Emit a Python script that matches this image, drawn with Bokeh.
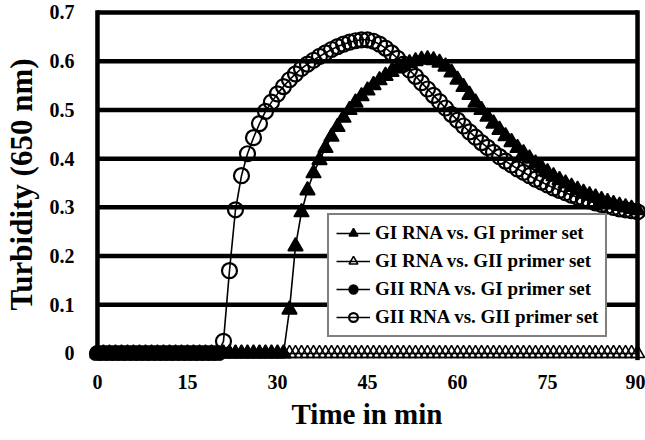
from bokeh.plotting import figure
from bokeh.models import Range1d, FixedTicker, Legend, LegendItem
from bokeh.embed import file_html
from bokeh.resources import INLINE

# ---------------- data ----------------
time_min = list(range(0, 91))

gi_rna_gi_primer = [
    0, 0, 0, 0, 0, 0, 0, 0, 0, 0,
    0, 0, 0, 0, 0, 0, 0, 0, 0, 0,
    0, 0, 0, 0, 0, 0, 0, 0, 0, 0,
    0, 0,
    0.09, 0.22, 0.29, 0.335, 0.37, 0.397, 0.422, 0.445, 0.465, 0.484,
    0.50, 0.515, 0.528, 0.54, 0.551, 0.561, 0.57, 0.578, 0.585, 0.591,
    0.596, 0.600, 0.603, 0.604, 0.602, 0.597, 0.589, 0.577, 0.562, 0.547,
    0.531, 0.515, 0.50, 0.486, 0.472, 0.459, 0.446, 0.434, 0.422, 0.411,
    0.40, 0.39, 0.381, 0.372, 0.364, 0.356, 0.349, 0.342, 0.336, 0.330,
    0.325, 0.320, 0.315, 0.311, 0.307, 0.303, 0.300, 0.297, 0.294,
]

gi_rna_gii_primer = [
    0, 0, 0, 0, 0, 0, 0, 0, 0, 0,
    0, 0, 0, 0, 0, 0, 0, 0, 0, 0,
    0, 0, 0, 0, 0, 0, 0, 0, 0, 0,
    0, 0, 0, 0, 0, 0, 0, 0, 0, 0,
    0, 0, 0, 0, 0, 0, 0, 0, 0, 0,
    0, 0, 0, 0, 0, 0, 0, 0, 0, 0,
    0, 0, 0, 0, 0, 0, 0, 0, 0, 0,
    0, 0, 0, 0, 0, 0, 0, 0, 0, 0,
    0, 0, 0, 0, 0, 0, 0, 0, 0, 0,
    0,
]

gii_rna_gi_time = [0, 1, 2, 3, 4, 5, 6, 7, 8, 9, 10,
                   11, 12, 13, 14, 15, 16, 17, 18, 19, 20]
gii_rna_gi_primer = [0, 0, 0, 0, 0, 0, 0, 0, 0, 0, 0,
                     0, 0, 0, 0, 0, 0, 0, 0, 0, 0]

gii_rna_gii_primer = [
    0, 0, 0, 0, 0, 0, 0, 0, 0, 0,
    0, 0, 0, 0, 0, 0, 0, 0, 0, 0,
    0,
    0.025, 0.17, 0.295, 0.365, 0.41, 0.443, 0.472, 0.497, 0.516, 0.533,
    0.548, 0.562, 0.574, 0.585, 0.594, 0.602, 0.61, 0.617, 0.624, 0.63,
    0.635, 0.639, 0.642, 0.644, 0.644, 0.641, 0.635, 0.627, 0.617, 0.606,
    0.594, 0.582, 0.569, 0.556, 0.543, 0.530, 0.517, 0.504, 0.491, 0.479,
    0.467, 0.455, 0.444, 0.433, 0.423, 0.413, 0.404, 0.395, 0.387, 0.379,
    0.372, 0.365, 0.358, 0.352, 0.346, 0.340, 0.335, 0.330, 0.325, 0.321,
    0.317, 0.313, 0.309, 0.306, 0.303, 0.300, 0.297, 0.295, 0.293, 0.291,
]

x_ticks = [0, 15, 30, 45, 60, 75, 90]
y_ticks = [0, 0.1, 0.2, 0.3, 0.4, 0.5, 0.6, 0.7]
y_tick_labels = ["0", "0.1", "0.2", "0.3", "0.4", "0.5", "0.6", "0.7"]
grid_levels = [0.1, 0.2, 0.3, 0.4, 0.5, 0.6, 0.7]

series_labels = [
    "GI RNA vs. GI primer set",
    "GI RNA vs. GII primer set",
    "GII RNA vs. GI primer set",
    "GII RNA vs. GII primer set",
]

# ---------------- figure ----------------
FONT = "Liberation Serif"

p = figure(width=645, height=440,
           x_range=Range1d(-1.494, 91.328), y_range=Range1d(-0.01437, 0.70821),
           output_backend="svg", toolbar_location=None,
           min_border_left=86, min_border_right=0,
           min_border_top=8, min_border_bottom=80)
p.outline_line_color = None
p.xgrid.visible = False
p.ygrid.visible = False
p.background_fill_color = "white"

# grid lines and frame lines (between first and last x tick)
x_lo, x_hi = x_ticks[0], x_ticks[-1]
p.segment(x0=[x_lo] * len(grid_levels), x1=[x_hi] * len(grid_levels),
          y0=grid_levels, y1=grid_levels, line_color="black", line_width=4.5)
p.segment(x0=[x_lo, x_hi], x1=[x_lo, x_hi], y0=[-0.014, -0.014],
          y1=[grid_levels[-1] + 0.0045, grid_levels[-1] + 0.0045],
          line_color="black", line_width=4.5)

# axes styling
for ax in (p.xaxis[0], p.yaxis[0]):
    ax.axis_line_color = None
    ax.major_tick_line_color = None
    ax.minor_tick_line_color = None
    ax.major_label_text_font = FONT
    ax.major_label_text_font_style = "bold"
    ax.major_label_text_font_size = "20px"
    ax.major_label_text_color = "black"
    ax.axis_label_text_font = FONT
    ax.axis_label_text_font_style = "bold"
    ax.axis_label_text_color = "black"

p.xaxis.ticker = FixedTicker(ticks=x_ticks)
p.xaxis.major_label_standoff = 8
p.xaxis.axis_label = "Time in min"
p.xaxis.axis_label_text_font_size = "29px"
p.xaxis.axis_label_standoff = 6

p.yaxis.ticker = FixedTicker(ticks=y_ticks)
p.yaxis.major_label_overrides = {t: s for t, s in zip(y_ticks, y_tick_labels)}
p.yaxis.major_label_standoff = 8
p.yaxis.axis_label = "Turbidity (650 nm)"
p.yaxis.axis_label_text_font_size = "31px"
p.yaxis.axis_label_standoff = 8

# ---------------- series ----------------
l1 = p.line(time_min, gi_rna_gii_primer, line_color="black", line_width=1.6)
s1 = p.scatter(time_min, gi_rna_gii_primer, marker="triangle", size=14,
               fill_color=None, line_color="black", line_width=1.6)

l2 = p.line(gii_rna_gi_time, gii_rna_gi_primer, line_color="black", line_width=1.6)
s2 = p.scatter(gii_rna_gi_time, gii_rna_gi_primer, marker="circle", size=15,
               fill_color="black", line_color="black", line_width=1.5)

l0 = p.line(time_min, gi_rna_gi_primer, line_color="black", line_width=1.6)
s0 = p.scatter(time_min, gi_rna_gi_primer, marker="triangle", size=15,
               fill_color="black", line_color="black", line_width=1.5)

l3 = p.line(time_min, gii_rna_gii_primer, line_color="black", line_width=1.6)
s3 = p.scatter(time_min, gii_rna_gii_primer, marker="circle", size=15,
               fill_color=None, line_color="black", line_width=2.2)

items = [
    LegendItem(label=series_labels[0], renderers=[l0, s0]),
    LegendItem(label=series_labels[1], renderers=[l1, s1]),
    LegendItem(label=series_labels[2], renderers=[l2, s2]),
    LegendItem(label=series_labels[3], renderers=[l3, s3]),
]

legend = Legend(items=items, location=(239, 23))
legend.border_line_color = "black"
legend.border_line_width = 2
legend.background_fill_color = "white"
legend.background_fill_alpha = 1.0
legend.label_text_font = FONT
legend.label_text_font_style = "bold"
legend.label_text_font_size = "19px"
legend.label_text_color = "black"
legend.glyph_width = 34
legend.glyph_height = 22
legend.label_height = 22
legend.label_standoff = 5
legend.spacing = 6
legend.padding = 7
legend.margin = 0
p.add_layout(legend, "center")

open("out.html", "w").write(file_html(p, INLINE))
